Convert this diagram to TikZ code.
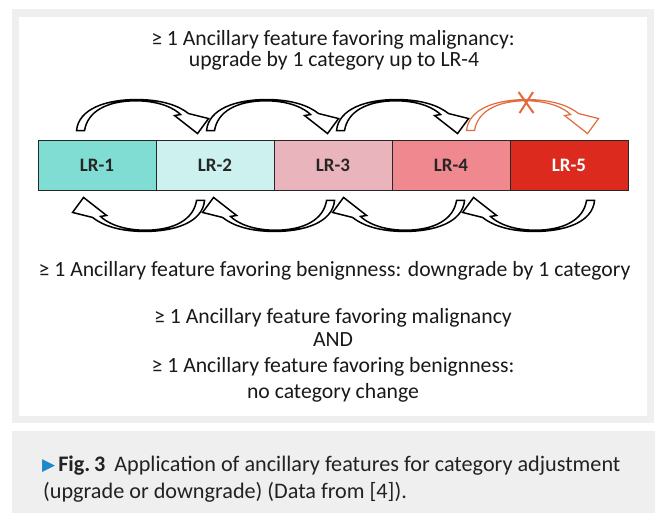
\documentclass[tikz,border=0pt]{standalone}
\usepackage{fontspec}
\setmainfont{Carlito}
\newfontfamily\symfont{DejaVu Sans}
\usetikzlibrary{calc}
\definecolor{framegray}{HTML}{EFEFEF}
\definecolor{lrone}{HTML}{80DDD3}
\definecolor{lrtwo}{HTML}{CCF1EF}
\definecolor{lrthree}{HTML}{E9B4BB}
\definecolor{lrfour}{HTML}{F08890}
\definecolor{lrfive}{HTML}{DC2B1E}
\definecolor{orangearrow}{HTML}{E26A3C}
\definecolor{capblue}{HTML}{1E88C8}
\definecolor{captext}{HTML}{222222}
\begin{document}
\begin{tikzpicture}[x=1pt,y=-1pt,
  txt/.style={inner sep=0pt, anchor=base, font=\fontsize{21.7}{24}\selectfont, text=black!90},
  captxt/.style={txt, anchor=base west, text=captext, font=\fontsize{22.2}{24}\selectfont},
  cell/.style={draw=black!85, line width=0.9pt, minimum width=118pt, minimum height=50pt,
    inner sep=0pt, font=\fontsize{19}{22}\selectfont\bfseries, text=black!85},
  curvedarrow/.pic={
    \path[pic actions] (0,0) .. controls (2,-22) and (30,-31) .. (60,-31)
      .. controls (85,-31) and (102,-25) .. (112,-17)
      -- (132,-12) -- (121,3) -- (98,-15) -- (104,-16)
      .. controls (98,-22) and (84,-29.4) .. (60,-29.8)
      .. controls (30,-29.8) and (11,-19) .. (8,0) -- cycle;
  },
  blackarrow/.style={draw=black, fill=white, line width=1.5pt, line join=miter},
  orangestyle/.style={draw=orangearrow, fill=white, line width=1.2pt, line join=miter}
]
\useasboundingbox (0,0) rectangle (655,513);
% frames
\fill[framegray] (12,9) rectangle (654,423);
\fill[white] (19,17) rectangle (647,416);
\fill[framegray] (12,431) rectangle (655,513);

% titles
\node[txt] (t1) at (333,45.7) {≥ 1 Ancillary feature favoring malignancy:};
\node[txt] (t2) at (334,67) {upgrade by 1 category up to LR-4};

% bar
\node[cell, fill=lrone] (c1) at (97,165) {LR-1};
\node[cell, fill=lrtwo] (c2) at (215,165) {LR-2};
\node[cell, fill=lrthree] (c3) at (333,165) {LR-3};
\node[cell, fill=lrfour] (c4) at (451,165) {LR-4};
\node[cell, fill=lrfive, text=white] (c5) at (569,165) {LR-5};

% upgrade arrows
\foreach \k in {0,1,2}
  \pic[blackarrow] at ($(c1.north west)+(39+130*\k,-9)$) {curvedarrow};
\coordinate (oa) at ($(c1.north west)+(39+390,-9)$);
\pic[orangestyle] at (oa) {curvedarrow};
\coordinate (xm) at ($(oa)+(59.5,-28)$);
\draw[orangearrow, line width=2pt] ($(xm)+(-7.5,-10.5)$) -- ($(xm)+(7.5,10.5)$);
\draw[orangearrow, line width=2pt] ($(xm)+(7,-10.5)$) -- ($(xm)+(-6.5,10.5)$);

% downgrade arrows
\foreach \k in {0,1,2,3}
  \pic[blackarrow, rotate=180] at ($(c1.south west)+(167+130*\k,10)$) {curvedarrow};

% bottom texts
\node[txt] (b1) at (334.5,276) {≥ 1 Ancillary feature favoring benignness: downgrade by 1 category};
\node[txt] (m1) at (333,323) {≥ 1 Ancillary feature favoring malignancy};
\node[txt] (m2) at (333,346) {AND};
\node[txt] (m3) at (333,372) {≥ 1 Ancillary feature favoring benignness:};
\node[txt] (m4) at (333,398) {no category change};

% caption
\node[captxt] (cap1) at (42,471)
  {\raisebox{0.5pt}{\symfont\fontsize{17}{18}\selectfont\color{capblue}▶}\hspace{3pt}\textbf{Fig.\,3}\hspace{9pt}Application of ancillary features for category adjustment};
\node[captxt] (cap2) at (43,498)
  {(upgrade or downgrade) (Data from [4]).};
\end{tikzpicture}
\end{document}
